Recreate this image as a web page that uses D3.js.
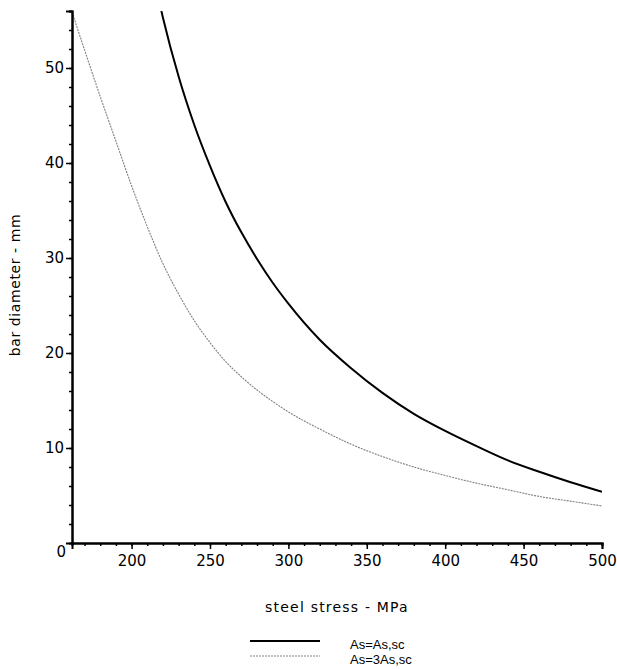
<!DOCTYPE html>
<html>
<head>
<meta charset="utf-8">
<script src="https://cdn.jsdelivr.net/npm/d3@7"></script>
<style>
  body { margin: 0; background: #fff; }
  text { font-family: "DejaVu Sans", sans-serif; fill: #000; }
</style>
</head>
<body>
<div id="container"></div>
<script>
// steel stress (MPa) and bar diameter (mm)
var stressBlack = [219, 220, 230, 240, 250, 260, 270, 280, 290, 300, 320, 340, 360, 380, 400, 420, 440, 460, 480, 500];
var diamBlack   = [56.0, 55.3, 49.1, 44.0, 39.7, 35.9, 32.7, 29.9, 27.4, 25.2, 21.4, 18.4, 15.8, 13.6, 11.8, 10.2, 8.7, 7.5, 6.4, 5.4];

var stressGrey = [162, 170, 180, 190, 200, 210, 220, 230, 240, 250, 260, 270, 280, 290, 300, 320, 340, 360, 380, 400, 420, 440, 460, 480, 500];
var diamGrey   = [55.9, 51.9, 47.0, 42.3, 37.6, 33.3, 29.4, 26.2, 23.4, 21.1, 19.1, 17.5, 16.1, 14.9, 13.8, 12.0, 10.4, 9.1, 8.0, 7.1, 6.3, 5.6, 4.9, 4.4, 3.9];

var xTicks = [200, 250, 300, 350, 400, 450, 500];
var yTicks = [10, 20, 30, 40, 50];
var legendLabels = ['As=As,sc', 'As=3As,sc'];

var width = 617, height = 669;
var plotLeft = 72, plotRight = 602, plotTop = 11, plotBottom = 543;

var svg = d3.select('#container')
    .append('svg')
    .attr('width', width)
    .attr('height', height);

var x = d3.scaleLinear().domain([162, 500]).range([plotLeft, plotRight]);
var y = d3.scaleLinear().domain([0, 56]).range([plotBottom, plotTop]);

svg.append('clipPath').attr('id', 'plot')
    .append('rect')
    .attr('x', plotLeft).attr('y', plotTop)
    .attr('width', plotRight - plotLeft).attr('height', plotBottom - plotTop);

var line = d3.line()
    .x(function(d) { return x(d[0]); })
    .y(function(d) { return y(d[1]); })
    .curve(d3.curveMonotoneX);

svg.append('path')
    .datum(d3.zip(stressGrey, diamGrey))
    .attr('clip-path', 'url(#plot)')
    .attr('d', line)
    .style('fill', 'none')
    .style('stroke', '#808080')
    .style('stroke-width', 1.1)
    .style('stroke-dasharray', '2,1');

svg.append('path')
    .datum(d3.zip(stressBlack, diamBlack))
    .attr('clip-path', 'url(#plot)')
    .attr('d', line)
    .style('fill', 'none')
    .style('stroke', '#000')
    .style('stroke-width', 2);

// x axis: major ticks every 50, minor every 10
var xAxis = svg.append('g')
    .attr('transform', 'translate(0,' + plotBottom + ')')
    .call(d3.axisBottom(x).tickValues(d3.range(170, 501, 10)).tickSize(3).tickFormat(''));
xAxis.append('g')
    .call(d3.axisBottom(x).tickValues(xTicks).tickSize(6).tickPadding(6));

// y axis: major every 10, minor every 2
var yAxis = svg.append('g')
    .attr('transform', 'translate(' + plotLeft + ',0)')
    .call(d3.axisLeft(y).tickValues(d3.range(2, 57, 2)).tickSize(3).tickFormat(''));
yAxis.append('g')
    .call(d3.axisLeft(y).tickValues(yTicks).tickSize(6).tickPadding(2));

svg.selectAll('.domain')
    .style('stroke', '#000')
    .style('stroke-width', 2);
svg.selectAll('.tick line')
    .style('stroke', '#000')
    .style('stroke-width', 1.5);
svg.selectAll('.tick text')
    .style('font-family', '"DejaVu Sans", sans-serif')
    .style('font-size', '15px')
    .style('fill', '#000');

// lone zero label under the corner
svg.append('text')
    .attr('x', 66)
    .attr('y', 557)
    .attr('text-anchor', 'end')
    .style('font-size', '15px')
    .text('0');

svg.append('text')
    .attr('x', (plotLeft + plotRight) / 2)
    .attr('y', 612)
    .attr('text-anchor', 'middle')
    .style('font-size', '14px')
    .style('letter-spacing', '1.2px')
    .text('steel stress - MPa');

svg.append('text')
    .attr('transform', 'translate(20,' + ((plotTop + plotBottom) / 2 + 8) + ') rotate(-90)')
    .attr('text-anchor', 'middle')
    .style('font-size', '14px')
    .style('letter-spacing', '0.6px')
    .text('bar diameter - mm');

// legend
var legendStyles = [
    { stroke: '#000', width: 2, dash: null },
    { stroke: '#808080', width: 1.1, dash: '2,1' }
];
var legend = svg.selectAll('.legend')
    .data(legendLabels)
    .enter()
    .append('g')
    .attr('class', 'legend')
    .attr('transform', function(d, i) {
        return 'translate(0,' + (641 + i * 15) + ')';
    });
legend.append('line')
    .attr('x1', 250).attr('x2', 320)
    .style('stroke', function(d, i) { return legendStyles[i].stroke; })
    .style('stroke-width', function(d, i) { return legendStyles[i].width; })
    .style('stroke-dasharray', function(d, i) { return legendStyles[i].dash; });
legend.append('text')
    .attr('x', 350)
    .attr('y', 8)
    .style('font-family', '"Liberation Sans", Arial, sans-serif')
    .style('font-size', '13px')
    .text(function(d) { return d; });
</script>
</body>
</html>
